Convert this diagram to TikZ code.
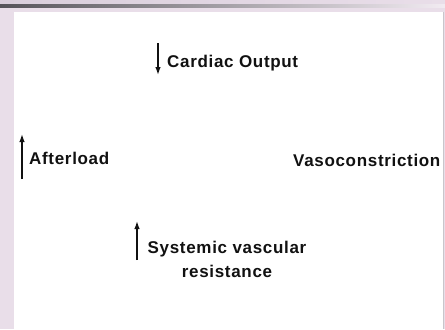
\documentclass[tikz,border=0pt]{standalone}
\usepackage{fontspec}
\setmainfont[LetterSpace=4]{Liberation Sans}
\usetikzlibrary{positioning, arrows.meta}
\definecolor{slPink}{HTML}{E9DEE9}
\definecolor{slLilac}{HTML}{D9CEDB}
\definecolor{slBar}{HTML}{56545A}
\definecolor{slEdge}{HTML}{C9C6CB}
\definecolor{slText}{HTML}{111111}

\tikzset{
	lbl/.style={font=\bfseries\fontsize{17bp}{24bp}\selectfont, text=slText, inner sep=0pt},
	trend/.style={draw=slText, line width=1.4bp, -{Latex[length=8bp,width=5.5bp]}}
}

\begin{document}
\begin{tikzpicture}[x=1bp, y=-1bp]
	% slide frame
	\fill[slPink] (0,0) rectangle (445,329);
	\shade[left color=slLilac, right color=slPink] (0,0) rectangle (445,4);
	\shade[left color=slBar, right color=slPink!60!white] (0,4) rectangle (445,7);
	\fill[white] (14,12) rectangle (443,329);
	\draw[slEdge, line width=1bp] (443.5,12) -- (443.5,329);
	\useasboundingbox (0,0) rectangle (445,329);

	% labels
	\node[lbl, anchor=base west] (cardiac) at (167,67) {Cardiac Output};
	\node[lbl, anchor=base west] (afterload) at (29,164) {Afterload};
	\node[lbl, anchor=base west] (vaso) at (293,166) {Vasoconstriction};
	\node[lbl, anchor=north, align=center] (svr) at (227,241) {Systemic vascular\\resistance};

	% trend arrows
	\coordinate (cardiac-up) at (158,43);
	\coordinate (cardiac-dn) at (158,75);
	\coordinate (after-dn) at (22,179);
	\coordinate (after-up) at (22,134);
	\coordinate (svr-dn) at (137,260);
	\coordinate (svr-up) at (137,221);
	\draw[trend] (cardiac-up) -- (cardiac-dn);
	\draw[trend] (after-dn) -- (after-up);
	\draw[trend] (svr-dn) -- (svr-up);
\end{tikzpicture}
\end{document}
